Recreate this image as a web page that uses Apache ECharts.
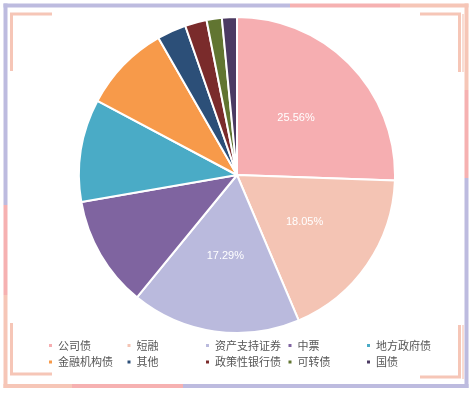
<!DOCTYPE html>
<html><head><meta charset="utf-8">
<script src="https://cdn.jsdelivr.net/npm/echarts@6/dist/echarts.min.js"></script>
<style>html,body{margin:0;padding:0;background:#fff}#c{width:472px;height:393px}</style>
</head><body><div id="c"></div>
<script>
var categories = ['公司债','短融','资产支持证券','中票','地方政府债','金融机构债','其他','政策性银行债','可转债','国债'];
var values = [25.56, 18.05, 17.29, 11.36, 10.50, 8.94, 2.97, 2.22, 1.56, 1.53];
var colors = ['#f6aeb1','#f4c4b4','#babadd','#7f64a0','#4aabc6','#f79a4a','#2c4f78','#7a2b2b','#617531','#4b3a62'];

var LAV = '#bdbbdf', PINK = '#f6b1b1', PEACH = '#f6c6b7';
function seg(x1,y1,x2,y2,c,w){return {type:'line',shape:{x1:x1,y1:y1,x2:x2,y2:y2},style:{stroke:c,lineWidth:w||4},silent:true};}
function bracket(pts,w,c){return {type:'polyline',shape:{points:pts},style:{stroke:c||PEACH,lineWidth:w||3,fill:null},silent:true};}

var graphics = [
  seg(3.5,5.5,290,5.5,LAV), seg(290,5.5,400,5.5,PINK), seg(400,5.5,468.5,5.5,PEACH),
  seg(466.5,3.5,466.5,90,PEACH), seg(466.5,90,466.5,178,PINK), seg(466.5,178,466.5,388,LAV),
  seg(468.5,386,183,386,LAV), seg(183,386,72,386,PINK), seg(72,386,3.5,386,PEACH),
  seg(5.5,388,5.5,295,PEACH), seg(5.5,295,5.5,205,PINK), seg(5.5,205,5.5,3.5,LAV),
  bracket([[52,14],[11.5,14],[11.5,71]]),
  bracket([[420,14],[459.5,14],[459.5,72]]),
  bracket([[463,14],[463,72]],1.2),
  bracket([[11.5,323],[11.5,374],[52,374]]),
  bracket([[459.5,325],[459.5,377],[420,377]]),
  bracket([[463,325],[463,379]],1.2)
];

var chart = echarts.init(document.getElementById('c'), null, {renderer:'canvas'});
chart.setOption({
  animation:false,
  color: colors,
  graphic: graphics,
  legend: {
    data: categories,
    left: 42, top: 335,
    width: 392,
    orient: 'horizontal',
    itemWidth: 5, itemHeight: 5,
    itemGap: 5.5,
    icon: 'rect',
    textStyle: {fontSize: 11, color: '#555', width: 62, lineHeight: 11, fontFamily: 'Noto Sans CJK SC'}
  },
  series: [{
    type: 'pie',
    center: [237, 175],
    radius: [0, 158],
    startAngle: 90,
    clockwise: true,
    itemStyle: {borderColor: '#fff', borderWidth: 2},
    label: {
      show: true, position: 'inside', color: '#fff', fontSize: 11,
      formatter: function(p){ return p.percent >= 15 ? p.value.toFixed(2) + '%' : ''; }
    },
    labelLine: {show:false},
    data: categories.map(function(n,i){return {name:n, value:values[i]};})
  }]
});
</script></body></html>
